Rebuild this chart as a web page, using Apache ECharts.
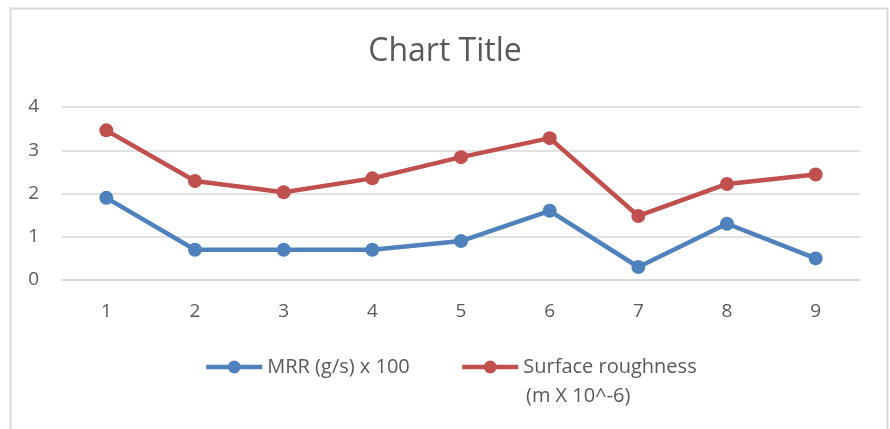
<!DOCTYPE html>
<html>
<head>
<meta charset="utf-8">
<style>
  html, body { margin: 0; padding: 0; background: #ffffff; }
  #chart { width: 890px; height: 429px; }
</style>
<script src="https://cdn.jsdelivr.net/npm/echarts@6/dist/echarts.min.js"></script>
</head>
<body>
<div id="chart"></div>
<script>
const titleText = 'Chart Title';
const categories = ['1', '2', '3', '4', '5', '6', '7', '8', '9'];
const mrrName = 'MRR (g/s) x 100';
const mrrValues = [1.9, 0.7, 0.7, 0.7, 0.9, 1.6, 0.3, 1.3, 0.5];
const roughName = 'Surface roughness';
const roughNameLine2 = '(m X 10^-6)';
const roughValues = [3.46, 2.29, 2.03, 2.35, 2.84, 3.28, 1.48, 2.22, 2.44];
const yTicks = { min: 0, max: 4, interval: 1 };

const chart = echarts.init(document.getElementById('chart'), null, { renderer: 'canvas' });
const font = "Open Sans, 'Noto Sans', sans-serif";
const textColor = '#595959';
const legendText = { color: textColor, fontFamily: font, fontSize: 20 };

chart.setOption({
  animation: false,
  backgroundColor: '#ffffff',
  title: {
    text: titleText,
    left: 'center',
    top: 31,
    textStyle: { fontFamily: font, fontSize: 32, fontWeight: 'normal', color: textColor }
  },
  grid: { left: 62, right: 30, top: 107, bottom: 149, containLabel: false },
  xAxis: {
    type: 'category',
    data: categories,
    boundaryGap: true,
    axisLine: { show: true, lineStyle: { color: '#d9d9d9', width: 1.5 } },
    axisTick: { show: false },
    axisLabel: { color: textColor, fontFamily: font, fontSize: 19, margin: 22 }
  },
  yAxis: {
    type: 'value',
    min: yTicks.min,
    max: yTicks.max,
    interval: yTicks.interval,
    axisLine: { show: false },
    axisTick: { show: false },
    splitLine: { lineStyle: { color: '#d9d9d9', width: 1.5 } },
    axisLabel: { color: textColor, fontFamily: font, fontSize: 19, margin: 23 }
  },
  legend: [
    {
      top: 352,
      left: 199,
      itemWidth: 56,
      itemHeight: 16,
      itemGap: 0,
      lineStyle: { width: 4.5 },
      textStyle: legendText,
      data: [mrrName]
    },
    {
      top: 352,
      left: 455,
      itemWidth: 56,
      itemHeight: 16,
      itemGap: 0,
      lineStyle: { width: 4.5 },
      textStyle: legendText,
      data: [roughName]
    }
  ],
  graphic: [
    {
      type: 'rect',
      shape: { x: 10.5, y: 8.5, width: 877, height: 500 },
      style: { fill: 'none', stroke: '#d9d9d9', lineWidth: 2 },
      silent: true
    },
    {
      type: 'text',
      left: 526,
      top: 386,
      style: { text: roughNameLine2, fill: textColor, font: "20px " + font }
    }
  ],
  series: [
    {
      name: mrrName,
      type: 'line',
      data: mrrValues,
      symbol: 'circle',
      symbolSize: 14,
      color: '#4F81BD',
      lineStyle: { width: 4.5, color: '#4F81BD' },
      itemStyle: { color: '#4F81BD' }
    },
    {
      name: roughName,
      type: 'line',
      data: roughValues,
      symbol: 'circle',
      symbolSize: 14,
      color: '#C0504D',
      lineStyle: { width: 4.5, color: '#C0504D' },
      itemStyle: { color: '#C0504D' }
    }
  ]
});
</script>
</body>
</html>
